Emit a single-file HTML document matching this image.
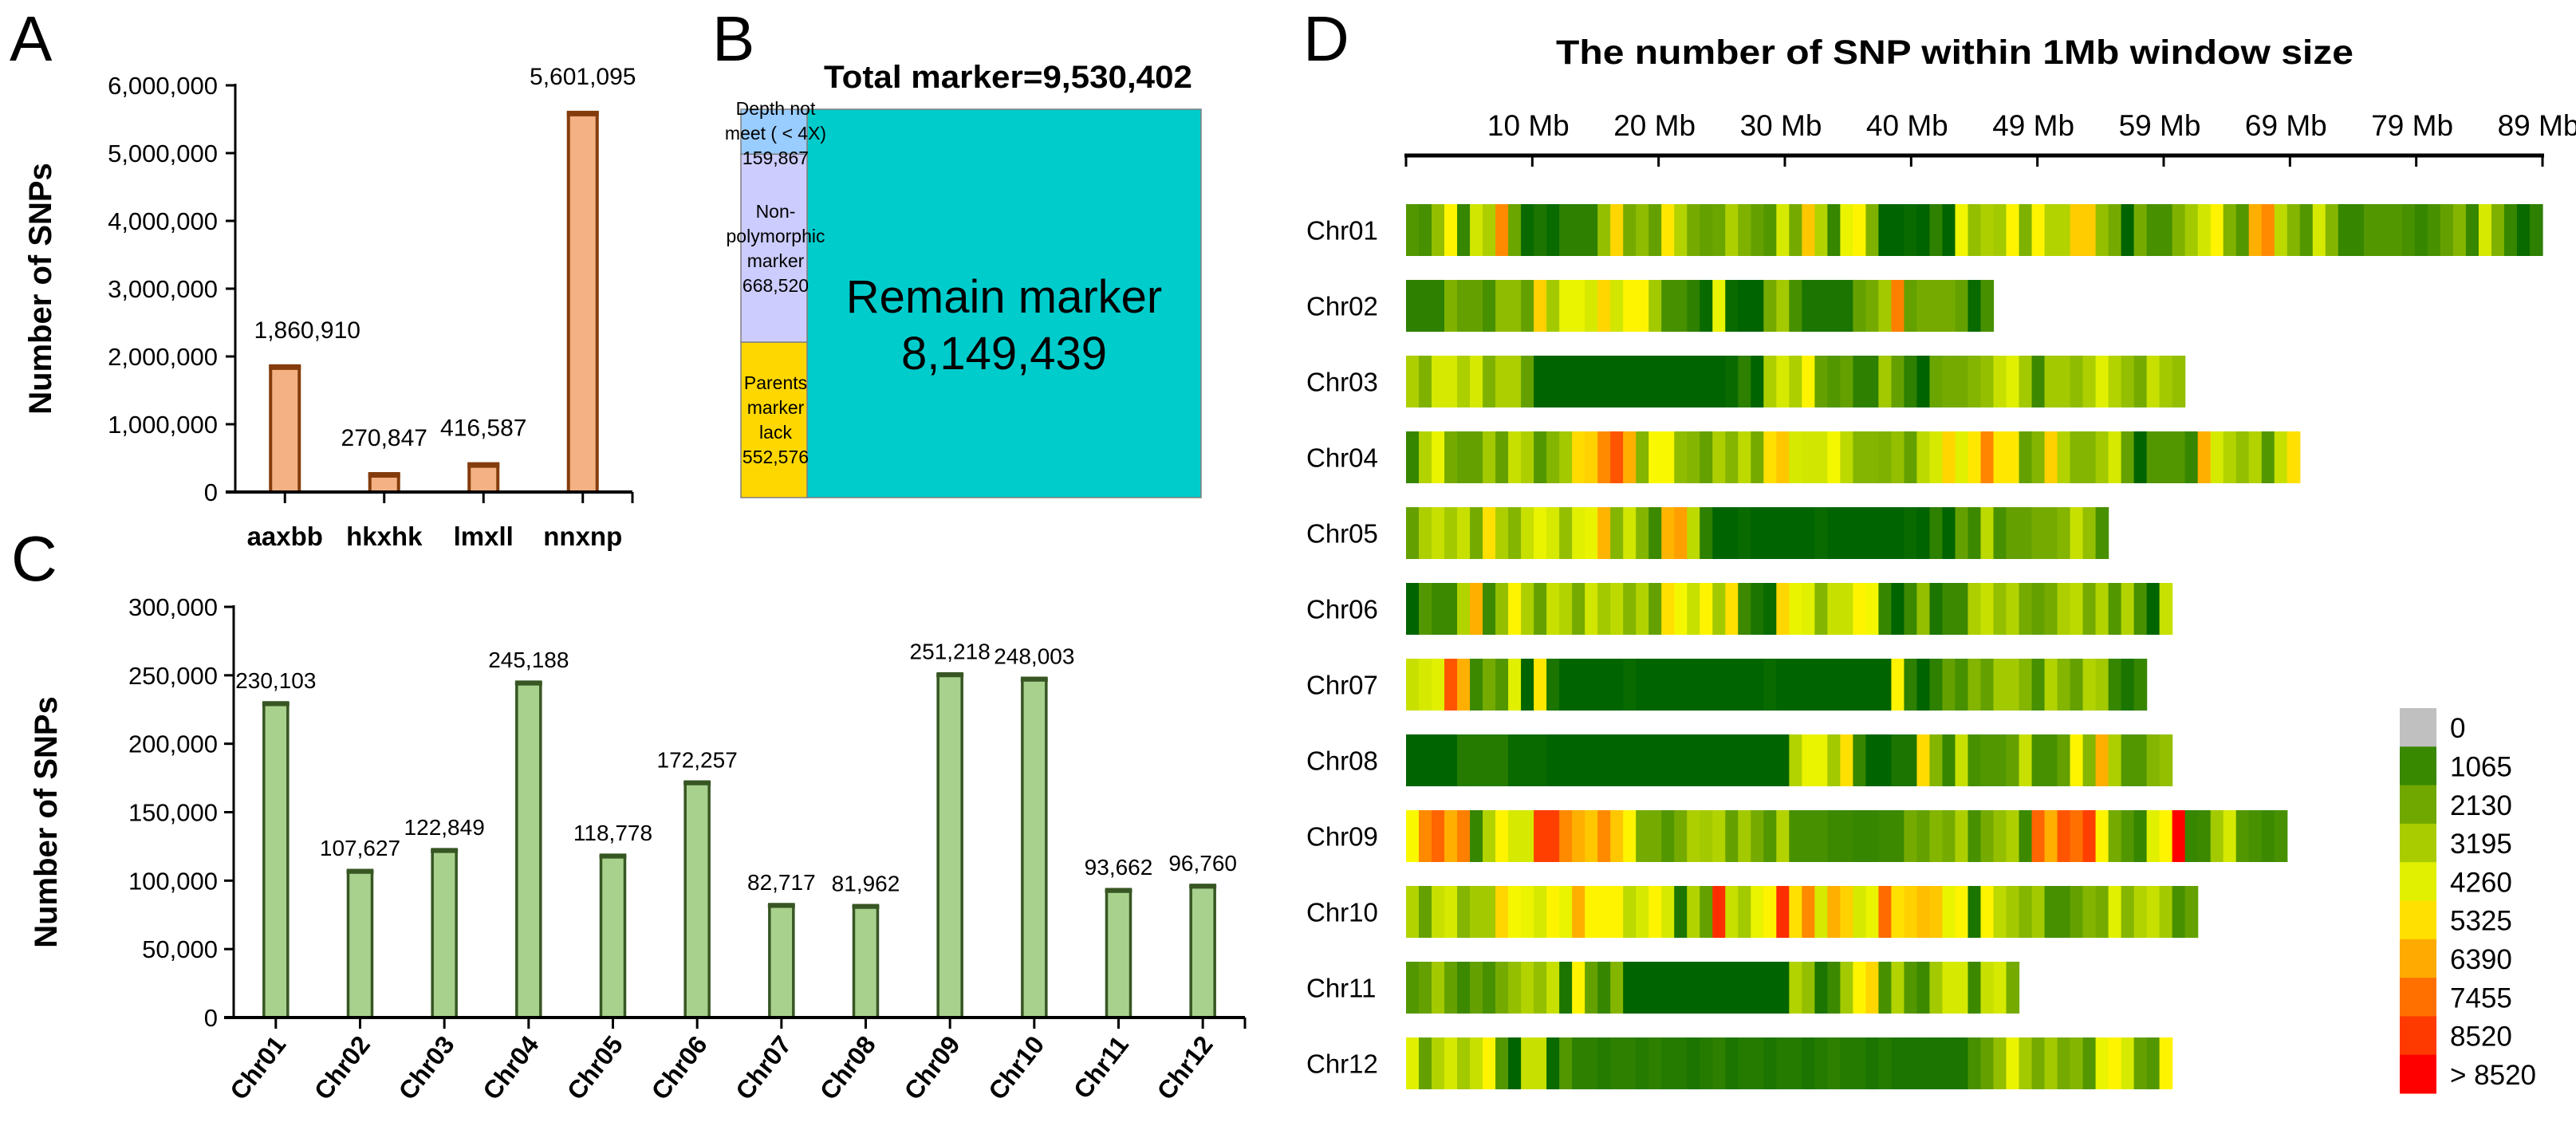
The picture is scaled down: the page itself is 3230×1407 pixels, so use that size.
<!DOCTYPE html>
<html><head><meta charset="utf-8"><style>
html,body{margin:0;padding:0;background:#fff}
svg{display:block;font-family:"Liberation Sans",sans-serif}
</style></head><body>
<svg id="fig" xmlns="http://www.w3.org/2000/svg" width="3230" height="1407" viewBox="0 0 3230 1407">
<rect width="3230" height="1407" fill="#fff"/>
<g id="pA"></g>
<g id="pB"></g>
<g id="pC"></g>
<g id="pD"></g>
</svg>
<script>
// ---------- Panel A data ----------
const aCategories = ["aaxbb","hkxhk","lmxll","nnxnp"];
const aValues = [1860910,270847,416587,5601095];
const aTicks = [0,1000000,2000000,3000000,4000000,5000000,6000000];
// ---------- Panel B data ----------
const bTotal = 9530402;
const bLabels = ["Depth not meet ( < 4X)","Non-polymorphic marker","Parents marker lack","Remain marker"];
const bValues = [159867,668520,552576,8149439];
// ---------- Panel C data ----------
const cCategories = ["Chr01","Chr02","Chr03","Chr04","Chr05","Chr06","Chr07","Chr08","Chr09","Chr10","Chr11","Chr12"];
const cValues = [230103,107627,122849,245188,118778,172257,82717,81962,251218,248003,93662,96760];
const cTicks = [0,50000,100000,150000,200000,250000,300000];
// ---------- Panel D data (SNP count per 1 Mb window, in hundreds) ----------
const dChromosomes = ["Chr01","Chr02","Chr03","Chr04","Chr05","Chr06","Chr07","Chr08","Chr09","Chr10","Chr11","Chr12"];
const dTickLabels = ["10 Mb","20 Mb","30 Mb","40 Mb","49 Mb","59 Mb","69 Mb","79 Mb","89 Mb"];
const dLegendLabels = ["0","1065","2130","3195","4260","5325","6390","7455","8520"," > 8520"];
const chr01 = [16,14,28,50,11,40,33,70,20,6,8,6,10,10,10,28,55,22,27,19,52,34,22,19,20,33,24,19,16,41,22,58,34,11,45,50,24,5,5,6,5,10,5,46,28,33,31,50,24,50,34,34,57,57,28,22,5,22,14,14,24,31,40,50,24,16,63,70,36,25,16,41,25,11,11,16,16,16,14,11,14,19,25,11,41,24,11,6,10];
const chr02 = [10,10,10,24,19,19,14,27,27,19,56,31,45,45,41,55,40,50,50,31,14,14,10,6,45,6,5,5,22,31,14,8,8,8,8,19,22,31,72,19,22,22,22,19,6,14];
const chr03 = [33,24,41,41,33,41,24,33,33,19,5,5,5,5,5,5,5,5,5,5,5,5,5,5,5,6,10,5,33,41,33,50,19,16,19,10,10,31,19,10,5,20,22,22,25,28,38,43,31,12,31,31,27,33,43,34,28,22,38,31,28];
const chr04 = [11,34,45,22,19,19,31,19,38,33,16,25,31,54,56,70,80,63,25,48,48,27,25,19,33,25,36,22,53,58,41,40,40,47,36,25,25,24,28,19,36,41,55,43,52,71,52,52,19,25,56,34,25,25,31,41,19,5,16,16,16,11,63,41,34,28,34,16,38,53];
const chr05 = [19,33,38,31,38,22,53,33,25,38,45,41,28,43,45,62,25,40,25,12,62,66,36,10,5,5,6,5,5,4,5,5,6,5,5,5,4,5,5,6,5,10,5,19,12,36,14,19,19,22,22,25,38,28,14];
const chr06 = [5,16,12,12,34,63,12,28,50,33,19,38,34,22,40,31,36,25,34,19,53,47,38,50,31,53,12,8,6,55,45,43,25,38,38,50,47,11,5,12,28,8,12,12,33,38,28,34,22,19,22,33,36,22,34,16,34,14,5,38];
const chr07 = [38,41,43,80,63,12,22,16,43,5,52,8,5,5,5,5,5,6,5,5,5,5,5,5,5,5,5,5,6,5,5,5,5,5,5,5,5,5,50,10,5,10,19,14,25,19,31,31,25,14,34,25,19,34,31,11,8,11];
const chr08 = [5,5,5,5,9,9,9,9,6,6,6,5,5,5,5,5,5,5,5,5,5,5,5,5,5,5,5,5,5,5,34,45,45,31,53,11,5,5,8,8,54,25,11,38,14,16,16,19,38,14,14,19,50,25,63,33,16,16,25,28];
const chr09 = [48,70,77,63,72,11,34,50,41,41,84,84,70,63,58,70,58,50,22,22,16,22,33,31,34,19,31,22,16,34,14,14,14,12,12,11,11,12,12,22,19,25,22,33,14,22,28,33,12,77,63,80,75,84,50,22,16,11,43,50,95,11,12,31,41,16,14,12,14];
const chr10 = [34,19,38,41,25,31,31,55,47,45,41,50,45,63,50,50,50,36,41,50,41,8,34,19,87,38,31,45,50,87,53,70,41,63,56,41,45,76,53,56,60,58,45,50,8,50,36,31,25,31,14,14,19,25,22,43,25,34,38,31,14,19];
const chr11 = [16,19,31,19,12,19,14,22,28,34,28,38,8,50,19,11,25,5,5,5,5,5,5,5,5,5,5,5,5,5,34,28,8,12,31,50,55,14,34,16,12,31,41,41,12,38,41,22];
const chr12 = [43,19,34,41,31,38,50,16,5,38,38,6,16,10,10,9,10,10,9,10,9,9,8,9,10,8,9,9,8,9,9,8,9,10,9,9,8,9,8,8,8,8,8,8,14,19,28,45,31,22,31,22,25,16,45,50,41,19,16,50];
const dWindows = [chr01,chr02,chr03,chr04,chr05,chr06,chr07,chr08,chr09,chr10,chr11,chr12];
const dAxisMaxMb = 89;
const dTickStepMb = 89/9;

const NS = "http://www.w3.org/2000/svg";
function mk(parent, tag, attrs, text){
  const e = document.createElementNS(NS, tag);
  for (const k in attrs) e.setAttribute(k, attrs[k]);
  if (text !== undefined) e.textContent = text;
  parent.appendChild(e);
  return e;
}
function fmt(n){ return n.toLocaleString("en-US"); }
const svg = document.getElementById("fig");

// panel letters
[["A",12,76],["B",893,76],["C",14,728],["D",1634,76]].forEach(function(p){
  const t = mk(svg,"text",{x:p[1],y:p[2],"font-size":80,fill:"#000"},p[0]);
  
  
});

// ---------- Panel A ----------
(function(){
  const g = document.getElementById("pA");
  const x0 = 295, x1 = 793, y0 = 617, yTop = 107, vMax = 6000000;
  const ys = v => y0 - (v / vMax) * (y0 - yTop);
  const band = (x1 - x0) / aCategories.length;
  const xc = i => x0 + band * (i + 0.5);
  const yAx = mk(g,"line",{x1:x0,y1:yTop-2,x2:x0,y2:y0,stroke:"#000","stroke-width":3});
  
  
  aTicks.forEach(function(t){
    const y = ys(t);
    mk(g,"line",{x1:x0-12,y1:y,x2:x0,y2:y,stroke:"#000","stroke-width":3});
    const lab = mk(g,"text",{x:x0-22,y:y+11,"text-anchor":"end","font-size":31},fmt(t));
    
    
  });
  aValues.forEach(function(v,i){
    const cx = xc(i), w = 36, top = ys(v);
    const bar = mk(g,"rect",{x:cx-w/2,y:top,width:w,height:y0-top,fill:"#F4B183",stroke:"#843C0C","stroke-width":4});
    
    
    mk(g,"line",{x1:cx-w/2-2,y1:top+2,x2:cx+w/2+2,y2:top+2,stroke:"#843C0C","stroke-width":6});
    const vl = mk(g,"text",{x:cx + (i===0 ? 28 : 0),y:top-35,"text-anchor":"middle","font-size":30},fmt(v));
    
    
    mk(g,"line",{x1:cx,y1:y0,x2:cx,y2:y0+14,stroke:"#000","stroke-width":3});
    const cl = mk(g,"text",{x:cx,y:684,"text-anchor":"middle","font-size":33,"font-weight":"bold"},aCategories[i]);
    
    
  });
  const xAx = mk(g,"line",{x1:x0-12,y1:y0,x2:x1,y2:y0,stroke:"#000","stroke-width":4});
  
  
  mk(g,"line",{x1:x1,y1:y0,x2:x1,y2:y0+14,stroke:"#000","stroke-width":3});
  const yt = mk(g,"text",{x:0,y:0,"text-anchor":"middle","font-size":40,"font-weight":"bold",transform:"translate(64,362) rotate(-90)"},"Number of SNPs");
  
  
})();

// ---------- Panel B ----------
(function(){
  const g = document.getElementById("pB");
  const xL = 929, xM = 1012, xR = 1506, yT = 137, yB = 624;
  const title = mk(g,"text",{x:1264,y:110,"text-anchor":"middle","font-size":40,"font-weight":"bold",textLength:462,lengthAdjust:"spacingAndGlyphs"},"Total marker=" + fmt(bTotal));
  
  
  const rem = mk(g,"rect",{x:xM,y:yT,width:xR-xM,height:yB-yT,fill:"#00CCCC",stroke:"#7f7f7f","stroke-width":1.5});
  
  
  const leftSum = bValues[0] + bValues[1] + bValues[2];
  const fills = ["#99CCFF","#CCCCFF","#FFD700"];
  const lines = [["Depth not","meet ( < 4X)"],["Non-","polymorphic","marker"],["Parents","marker","lack"]];
  let y = yT;
  const labelQueue = [];
  bValues.slice(0,3).forEach(function(v,i){
    const h = (v / leftSum) * (yB - yT);
    const r = mk(g,"rect",{x:xL,y:y,width:xM-xL,height:h,fill:fills[i],stroke:"#7f7f7f","stroke-width":1.5});
    
    
    labelQueue.push([lines[i].concat([fmt(v)]), (i===0) ? y + h/2 + 2 : y + h/2]);
    y += h;
  });
  labelQueue.forEach(function(q){
    const L = q[0], cy = q[1];
    L.forEach(function(s,k){
      const t = mk(g,"text",{x:(xL+xM)/2 + 2,y:cy + (k - (L.length-1)/2)*31 + 8,"text-anchor":"middle","font-size":23},s);
      
      
    });
  });
  const t1 = mk(g,"text",{x:(xM+xR)/2,y:392,"text-anchor":"middle","font-size":58},bLabels[3]);
  
  
  const t2 = mk(g,"text",{x:(xM+xR)/2,y:463,"text-anchor":"middle","font-size":58},fmt(bValues[3]));
  
  
})();

// ---------- Panel C ----------
(function(){
  const g = document.getElementById("pC");
  const x0 = 293, x1 = 1561, y0 = 1276, yTop = 761, vMax = 300000;
  const ys = v => y0 - (v / vMax) * (y0 - yTop);
  const band = (x1 - x0) / cCategories.length;
  const xc = i => x0 + band * (i + 0.5);
  const yAx = mk(g,"line",{x1:x0,y1:yTop-2,x2:x0,y2:y0,stroke:"#000","stroke-width":3});
  
  
  cTicks.forEach(function(t){
    const y = ys(t);
    mk(g,"line",{x1:x0-12,y1:y,x2:x0,y2:y,stroke:"#000","stroke-width":3});
    const lab = mk(g,"text",{x:x0-20,y:y+11,"text-anchor":"end","font-size":31},fmt(t));
    
    
  });
  cValues.forEach(function(v,i){
    const cx = xc(i), w = 30, top = ys(v);
    const bar = mk(g,"rect",{x:cx-w/2,y:top,width:w,height:y0-top,fill:"#A9D18E",stroke:"#375623","stroke-width":3.5});
    
    
    mk(g,"line",{x1:cx-w/2-2,y1:top+2,x2:cx+w/2+2,y2:top+2,stroke:"#375623","stroke-width":5});
    const vl = mk(g,"text",{x:cx,y:top-18,"text-anchor":"middle","font-size":28},fmt(v));
    
    
    mk(g,"line",{x1:cx,y1:y0,x2:cx,y2:y0+14,stroke:"#000","stroke-width":3});
    const cl = mk(g,"text",{x:0,y:0,"text-anchor":"end","font-size":32,"font-weight":"bold",transform:"translate(" + (cx+14) + ",1310) rotate(-52)"},cCategories[i]);
    
    
  });
  const xAx = mk(g,"line",{x1:x0-12,y1:y0,x2:x1,y2:y0,stroke:"#000","stroke-width":4});
  
  
  mk(g,"line",{x1:x1,y1:y0,x2:x1,y2:y0+14,stroke:"#000","stroke-width":3});
  const yt = mk(g,"text",{x:0,y:0,"text-anchor":"middle","font-size":40,"font-weight":"bold",transform:"translate(71,1031) rotate(-90)"},"Number of SNPs");
  
  
})();

// ---------- Panel D ----------
(function(){
  const g = document.getElementById("pD");
  const ax0 = 1763, ax1 = 3188;
  const xs = mb => ax0 + (mb / dAxisMaxMb) * (ax1 - ax0);
  const stops = [[5,[0,100,0]],[11,[54,134,0]],[21,[112,168,0]],[32,[168,204,0]],[43,[224,240,0]],[49,[255,250,0]],[53,[255,224,0]],[64,[255,170,0]],[75,[255,112,0]],[85,[255,58,0]],[95,[255,0,0]]];
  function color(v){
    if (v <= 0) return "#C0C0C0";
    if (v <= stops[0][0]) return "rgb(0,100,0)";
    for (let i=1;i<stops.length;i++){
      if (v <= stops[i][0]){
        const a = stops[i-1], b = stops[i], f = (v-a[0])/(b[0]-a[0]);
        const c = a[1].map((q,k)=>Math.round(q + (b[1][k]-q)*f));
        return "rgb(" + c.join(",") + ")";
      }
    }
    return "rgb(255,0,0)";
  }
  const title = mk(g,"text",{x:2451,y:80,"text-anchor":"middle","font-size":43,"font-weight":"bold",textLength:1000,lengthAdjust:"spacingAndGlyphs"},"The number of SNP within 1Mb window size");
  
  
  const axis = mk(g,"line",{x1:ax0-2,y1:195,x2:ax1+2,y2:195,stroke:"#000","stroke-width":5});
  
  
  mk(g,"line",{x1:ax0,y1:195,x2:ax0,y2:209,stroke:"#000","stroke-width":3});
  dTickLabels.forEach(function(s,i){
    const x = xs(dTickStepMb*(i+1));
    mk(g,"line",{x1:x,y1:195,x2:x,y2:209,stroke:"#000","stroke-width":3});
    const t = mk(g,"text",{x:x-5,y:170,"text-anchor":"middle","font-size":37},s);
    
    
  });
  const rowStep = 95, rowTop = 256, rowH = 65;
  dChromosomes.forEach(function(name,r){
    const y = rowTop + r*rowStep;
    const lab = mk(g,"text",{x:1638,y:y+rowH/2+12,"font-size":33},name);
    
    
    const row = mk(g,"g",{});
    
    
    dWindows[r].forEach(function(v,i){
      const xa = xs(i), xb = xs(i+1);
      const cell = mk(row,"rect",{x:xa,y:y,width:xb-xa+0.6,height:rowH,fill:color(v)});
      
      
    });
  });
  const legendCols = ["#C0C0C0","#388800","#70A800","#A8CC00","#E0F000","#FFE000","#FFAA00","#FF7000","#FF3A00","#FF0000"];
  const ly0 = 888, lh = 48.3;
  dLegendLabels.forEach(function(s,i){
    const sw = mk(g,"rect",{x:3009,y:ly0+i*lh,width:46,height:lh+0.5,fill:legendCols[i]});
    
    
    const t = mk(g,"text",{x:3072,y:ly0+i*lh+lh/2+13,"font-size":35},s);
    
    
  });
})();
</script>
</body></html>
